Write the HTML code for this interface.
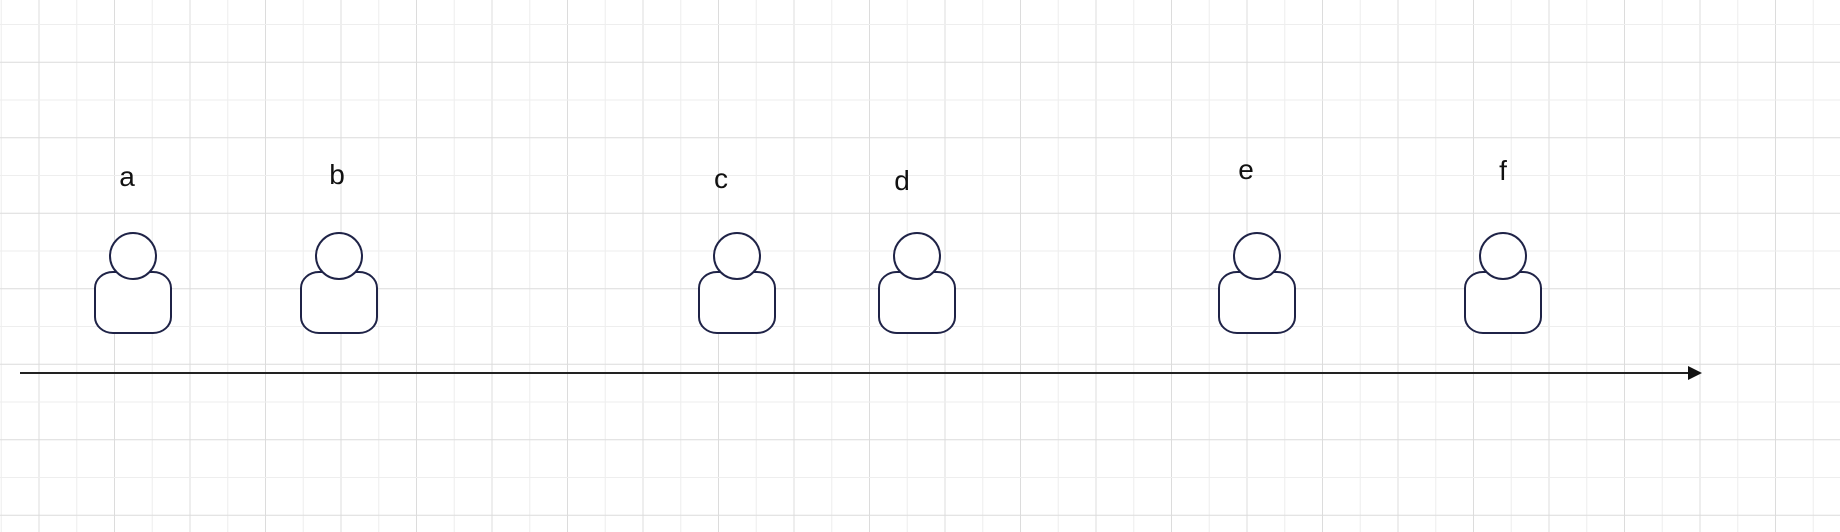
<!DOCTYPE html>
<html><head><meta charset="utf-8"><style>
html,body{margin:0;padding:0;background:#fff;}
svg{display:block;}
text{font-family:"Liberation Sans",sans-serif;font-size:28px;fill:#111;}
</style></head><body>
<svg id="chart" width="1840" height="532" viewBox="0 0 1840 532" xmlns="http://www.w3.org/2000/svg">
<g id="grid"></g>
<g id="axis">
<line x1="20" y1="373" x2="1690" y2="373" stroke="#222" stroke-width="2"/>
<polygon points="1688,366 1702,373 1688,380" fill="#111"/>
</g>
<g id="people"></g>
</svg>
<script>
const labels = ["a","b","c","d","e","f"];
const positions = [133, 339, 737, 917, 1257, 1503];
const labelOffsets = [-6, -2, -16, -15, -11, 0];
const labelY = [176, 174, 178, 180, 169, 170];

const NS="http://www.w3.org/2000/svg";
const grid=document.getElementById('grid');
function mk(t,a){const e=document.createElementNS(NS,t);for(const k in a)e.setAttribute(k,a[k]);return e;}
for(let i=0;i*37.75+0.75<1840;i++){
  const x=0.75+i*37.75+0.5;
  const l=mk('line',{x1:x,y1:0,x2:x,y2:532,stroke:i%2?'#dcdcdc':'#eeeeee','stroke-width':1});
  
  
  grid.appendChild(l);
}
for(let i=0;i*37.75+24<532;i++){
  const y=24+i*37.75+0.5;
  const l=mk('line',{x1:0,y1:y,x2:1840,y2:y,stroke:i%2?'#dcdcdc':'#eeeeee','stroke-width':1});
  
  
  grid.appendChild(l);
}
const people=document.getElementById('people');
labels.forEach((lb,i)=>{
  const cx=positions[i];
  const g=mk('g',{});
  
  
  const body=mk('rect',{x:cx-38,y:272,width:76,height:61,rx:18,ry:16,fill:'#fff',stroke:'#1f2347','stroke-width':2});
  
  
  const head=mk('circle',{cx:cx,cy:256,r:23,fill:'#fff',stroke:'#1f2347','stroke-width':2});
  
  
  const t=mk('text',{x:cx+labelOffsets[i],y:labelY[i]+10,'text-anchor':'middle'});
  t.textContent=lb;
  
  
  g.appendChild(body);g.appendChild(head);g.appendChild(t);
  people.appendChild(g);
});
</script>
</body></html>
